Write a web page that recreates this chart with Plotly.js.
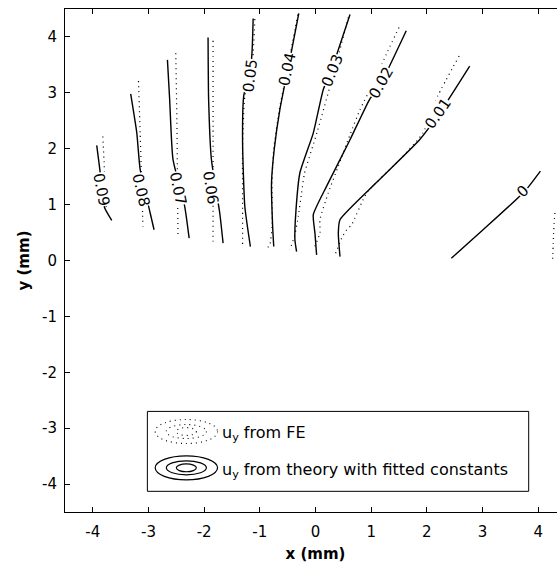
<!DOCTYPE html>
<html>
<head>
<meta charset="utf-8">
<script src="https://cdn.plot.ly/plotly-3.0.1.min.js"></script>
<style>
html,body{margin:0;padding:0;overflow:hidden;background:#fff;}
#chart{width:580px;height:569px;}
</style>
</head>
<body>
<div id="chart"></div>
<script>
// contour levels (labels)
const contourLevels = ["0.09","0.08","0.07","0.06","0.05","0.04","0.03","0.02","0.01","0"];

// u_y from theory with fitted constants (solid contours)
const theoryX = [
  [-3.93,-3.89,-3.84,-3.79,-3.66],
  [-3.32,-3.21,-3.15,-2.97,-2.90],
  [-2.66,-2.62,-2.56,-2.35,-2.27],
  [-1.93,-1.92,-1.87,-1.72,-1.66],
  [-1.12,-1.15,-1.29,-1.31,-1.27,-1.17],
  [-0.30,-0.46,-0.64,-0.74,-0.79,-0.77,-0.75],
  [0.62,0.29,0.14,-0.04,-0.28,-0.35,-0.37,-0.34],
  [1.63,1.18,0.97,0.62,0.20,-0.04,-0.01,0.02],
  [2.77,2.23,1.87,1.09,0.44,0.41,0.44],
  [4.04,3.76,3.01,2.44]
];
const theoryY = [
  [2.06,1.75,1.35,0.95,0.72],
  [2.98,2.28,1.63,0.85,0.55],
  [3.59,2.88,1.81,0.97,0.40],
  [3.99,2.88,1.81,0.85,0.31],
  [4.33,3.60,2.94,2.11,0.97,0.25],
  [4.42,3.60,2.70,2.00,1.39,0.61,0.25],
  [4.40,3.42,3.06,2.28,1.57,0.91,0.37,0.16],
  [4.11,3.18,2.88,2.16,1.33,0.82,0.49,0.10],
  [3.48,2.64,2.16,1.39,0.73,0.49,0.07],
  [1.60,1.24,0.55,0.04]
];

// u_y from FE (dotted contours)
const feX = [
  [-3.82,-3.80,-3.78,-3.75],
  [-3.18,-3.15,-3.12,-3.10],
  [-2.51,-2.49,-2.48,-2.47],
  [-1.84,-1.84,-1.84,-1.84],
  [-1.09,-1.13,-1.27,-1.31,-1.31,-1.31],
  [-0.32,-0.47,-0.65,-0.75,-0.78,-0.78,-0.82,-0.89],
  [0.59,0.34,0.03,-0.20,-0.25,-0.31,-0.37,-0.46],
  [1.50,1.30,1.05,0.80,0.62,0.41,0.23,0.08,0.08,-0.04],
  [2.58,2.20,1.93,1.51,0.92,0.65,0.56,0.47,0.35],
  [4.30,4.28,4.27,4.26]
];
const feY = [
  [2.22,1.81,1.33,0.80],
  [3.21,2.28,1.30,0.61],
  [3.71,2.50,1.40,0.46],
  [3.93,2.50,1.30,0.34],
  [4.32,3.60,2.94,2.05,1.09,0.25],
  [4.40,3.60,2.70,2.00,1.39,0.61,0.28,0.20],
  [4.35,3.40,2.30,1.55,1.21,0.79,0.46,0.19],
  [4.17,3.75,3.20,2.70,2.25,1.69,1.21,0.73,0.49,0.19],
  [3.66,2.95,2.28,1.80,1.21,0.64,0.55,0.40,0.10],
  [0.85,0.55,0.30,0.03]
];

// inline contour label positions (data units) and orientation
const labelX = [-3.84,-3.13,-2.47,-1.88,-1.18,-0.50,0.30,1.18,2.19,3.73];
const labelY = [1.27,1.27,1.30,1.30,3.31,3.42,3.39,3.17,2.63,1.24];
const labelAngle = [79,77,78,81,-83,-78,-68,-60,-55,-45];

const tickVals = [-4,-3,-2,-1,0,1,2,3,4];
const tickText = ["-4","-3","-2","-1","0","1","2","3","4"];
const legendTexts = ["u<sub>y</sub> from FE","u<sub>y</sub> from theory with fitted constants"];

const FONT = "DejaVu Sans, Arial, sans-serif";
const traces = [];
for (let i = 0; i < contourLevels.length; i++) {
  traces.push({x: feX[i], y: feY[i], mode: "lines", type: "scatter", hoverinfo: "skip",
    line: {color: "#000", width: 1.2, dash: "1px,4px", shape: "spline", smoothing: 0.5}});
  traces.push({x: theoryX[i], y: theoryY[i], mode: "lines", type: "scatter", hoverinfo: "skip",
    line: {color: "#000", width: 1.4, shape: "spline", smoothing: 0.5}});
}

const annotations = contourLevels.map((t, i) => ({
  x: labelX[i], y: labelY[i], xref: "x", yref: "y", text: t, showarrow: false,
  textangle: labelAngle[i], bgcolor: "#fff", borderpad: 0,
  font: {family: FONT, size: 15, color: "#000"}
}));

// legend (drawn manually to reproduce the ellipse icons)
const legCx = -2.32, legY = [-3.06, -3.71];
annotations.push({x: -1.72, y: legY[0] - 0.04, xref: "x", yref: "y", xanchor: "left", yanchor: "middle",
  text: legendTexts[0], showarrow: false, font: {family: FONT, size: 16, color: "#000"}});
annotations.push({x: -1.72, y: legY[1] - 0.04, xref: "x", yref: "y", xanchor: "left", yanchor: "middle",
  text: legendTexts[1], showarrow: false, font: {family: FONT, size: 16, color: "#000"}});

const shapes = [{type: "rect", xref: "x", yref: "y", x0: -3.02, x1: 3.83, y0: -4.13, y1: -2.70,
  line: {color: "#000", width: 1}, fillcolor: "#fff", layer: "above"}];
const rx = [0.56, 0.36, 0.18], ry = [0.215, 0.125, 0.07];
for (let k = 0; k < 2; k++) {
  for (let j = 0; j < 3; j++) {
    shapes.push({type: "circle", xref: "x", yref: "y",
      x0: legCx - rx[j], x1: legCx + rx[j], y0: legY[k] - ry[j], y1: legY[k] + ry[j],
      line: {color: "#000", width: k === 0 ? 1.1 : 1.2, dash: k === 0 ? "1px,4px" : "solid"}});
  }
}

const axisCommon = {
  range: [-4.5, 4.5], tickvals: tickVals, ticktext: tickText, ticks: "inside", ticklen: 5, tickwidth: 1, tickcolor: "#000",
  showline: true, linecolor: "#000", linewidth: 1, mirror: "ticks", showgrid: false, zeroline: false,
  tickfont: {family: FONT, size: 15, color: "#000"}
};

const layout = {
  width: 580, height: 569,
  margin: {l: 65, r: 14, t: 9, b: 57},
  paper_bgcolor: "#fff", plot_bgcolor: "#fff",
  showlegend: false,
  xaxis: Object.assign({}, axisCommon, {ticklabelstandoff: 6,
    title: {text: "<b>x (mm)</b>", font: {family: FONT, size: 15, color: "#000"}, standoff: 8}}),
  yaxis: Object.assign({}, axisCommon, {ticklabelstandoff: 4,
    title: {text: "<b>y (mm)</b>", font: {family: FONT, size: 15, color: "#000"}, standoff: 8}}),
  annotations: annotations,
  shapes: shapes
};

Plotly.newPlot("chart", traces, layout, {staticPlot: true, displayModeBar: false});
</script>
</body>
</html>
